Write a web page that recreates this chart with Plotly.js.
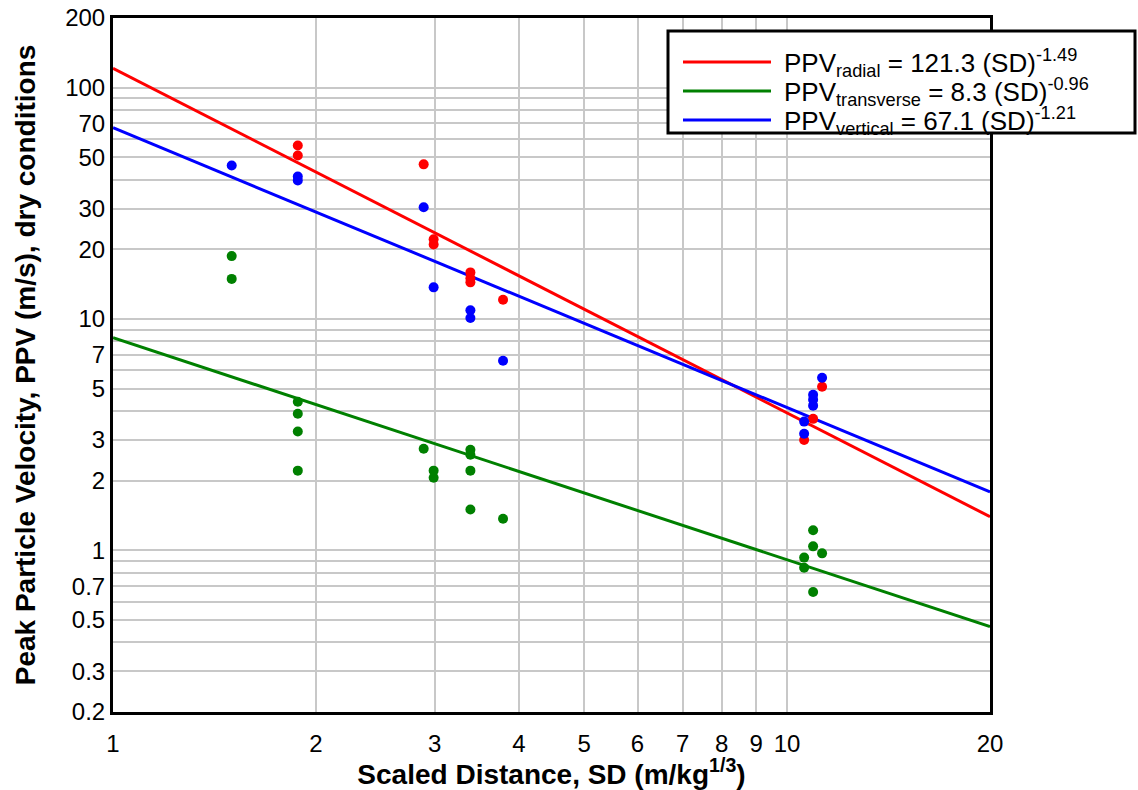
<!DOCTYPE html>
<html>
<head>
<meta charset="utf-8">
<script src="https://cdn.plot.ly/plotly-3.0.1.min.js"></script>
<style>
html,body{margin:0;padding:0;background:#fff;}
#chart{width:1138px;height:790px;}
</style>
</head>
<body>
<div id="chart"></div>
<script>
// ---- data ----
const components = ["radial", "transverse", "vertical"];
const fitCoef = [121.3, 8.3, 67.1];
const fitExp = [-1.49, -0.96, -1.21];
const colors = ["#ff0000", "#008000", "#0000ff"];

const sdRadial = [1.88, 1.88, 2.89, 2.99, 2.99, 3.39, 3.39, 3.39, 3.79, 11.27, 10.93, 10.6];
const ppvRadial = [56.2, 50.9, 46.6, 22.1, 21.0, 15.9, 15.0, 14.4, 12.1, 5.09, 3.7, 3.0];

const sdTransverse = [1.50, 1.50, 1.88, 1.88, 1.88, 1.88, 2.89, 2.99, 2.99, 3.39, 3.39, 3.39, 3.39, 3.79, 10.93, 10.93, 11.27, 10.6, 10.6, 10.93];
const ppvTransverse = [18.7, 14.9, 4.39, 3.89, 3.26, 2.21, 2.75, 2.21, 2.06, 2.72, 2.59, 2.21, 1.50, 1.37, 1.22, 1.04, 0.97, 0.93, 0.84, 0.66];

const sdVertical = [1.50, 1.88, 1.88, 2.89, 2.99, 3.39, 3.39, 3.79, 11.27, 10.93, 10.93, 10.93, 10.6, 10.6];
const ppvVertical = [46.1, 41.3, 39.7, 30.4, 13.7, 10.9, 10.1, 6.6, 5.57, 4.70, 4.48, 4.22, 3.6, 3.19];

const fitRangeSD = [1, 20];

const xTickVals = [1, 2, 3, 4, 5, 6, 7, 8, 9, 10, 20];
const xTickText = ["1", "2", "3", "4", "5", "6", "7", "8", "9", "10", "20"];
const yTickVals = [0.2, 0.3, 0.4, 0.5, 0.6, 0.7, 0.8, 0.9, 1, 2, 3, 4, 5, 6, 7, 8, 9, 10, 20, 30, 40, 50, 60, 70, 80, 90, 100, 200];
const yTickText = ["0.2", "0.3", "", "0.5", "", "0.7", "", "", "1", "2", "3", "", "5", "", "7", "", "", "10", "20", "30", "", "50", "", "70", "", "", "100", "200"];

// ---- layout geometry (pixels) ----
const W = 1138, H = 790;
const M = {l: 113, r: 148, t: 18, b: 78};
const PW = W - M.l - M.r, PH = H - M.t - M.b;
const px = x => (x - M.l) / PW;
const py = y => (H - M.b - y) / PH;

const FONT = "Liberation Sans, Arial, sans-serif";

const traces = [];
// fit lines
components.forEach((c, i) => {
  traces.push({
    x: fitRangeSD,
    y: fitRangeSD.map(s => fitCoef[i] * Math.pow(s, fitExp[i])),
    mode: "lines",
    line: {color: colors[i], width: 3},
    showlegend: false,
    hoverinfo: "skip",
    name: "PPV " + c + " fit"
  });
});
// measured points
const ptsX = [sdRadial, sdTransverse, sdVertical];
const ptsY = [ppvRadial, ppvTransverse, ppvVertical];
components.forEach((c, i) => {
  traces.push({
    x: ptsX[i],
    y: ptsY[i],
    mode: "markers",
    marker: {color: colors[i], size: 10},
    showlegend: false,
    name: "PPV " + c
  });
});

// manual legend
const legRows = [62, 91, 120];
const shapes = [{
  type: "rect", xref: "paper", yref: "paper",
  x0: px(668), x1: px(1135), y0: py(133), y1: py(31),
  line: {color: "#000", width: 3}, fillcolor: "#fff", layer: "above"
}];
const annotations = [];
components.forEach((c, i) => {
  shapes.push({
    type: "line", xref: "paper", yref: "paper",
    x0: px(683), x1: px(771), y0: py(legRows[i]), y1: py(legRows[i]),
    line: {color: colors[i], width: 3}, layer: "above"
  });
  annotations.push({
    xref: "paper", yref: "paper", x: px(782), y: py(legRows[i] + 1),
    xanchor: "left", yanchor: "middle", showarrow: false,
    text: "PPV<sub>" + c + "</sub> = " + fitCoef[i].toFixed(1) + " (SD)<sup>" + fitExp[i].toFixed(2) + "</sup>",
    font: {family: FONT, size: 26, color: "#000"}
  });
});

const layout = {
  width: W, height: H,
  margin: M,
  paper_bgcolor: "#fff",
  plot_bgcolor: "#fff",
  showlegend: false,
  xaxis: {
    type: "log",
    range: [0, Math.log10(20)],
    tickmode: "array",
    tickvals: xTickVals,
    ticktext: xTickText,
    ticks: "",
    ticklabelstandoff: 8,
    tickfont: {family: FONT, size: 24, color: "#000"},
    showgrid: true,
    gridcolor: "#c8c8c8",
    gridwidth: 2,
    showline: true, mirror: true, linecolor: "#000", linewidth: 3,
    zeroline: false,
    title: {
      text: "<b>Scaled Distance, SD (m/kg<sup>1/3</sup>)</b>",
      font: {family: FONT, size: 28, color: "#000"},
      standoff: 0
    }
  },
  yaxis: {
    type: "log",
    range: [Math.log10(0.2), Math.log10(200)],
    tickmode: "array",
    tickvals: yTickVals,
    ticktext: yTickText,
    ticks: "",
    ticklabelstandoff: 0,
    tickfont: {family: FONT, size: 24, color: "#000"},
    showgrid: true,
    gridcolor: "#c8c8c8",
    gridwidth: 2,
    showline: true, mirror: true, linecolor: "#000", linewidth: 3,
    zeroline: false,
    title: {
      text: "<b>Peak Particle Velocity, PPV (m/s), dry conditions</b>",
      font: {family: FONT, size: 28, color: "#000"},
      standoff: 22
    }
  },
  shapes: shapes,
  annotations: annotations
};

Plotly.newPlot("chart", traces, layout, {displayModeBar: false, staticPlot: true});
</script>
</body>
</html>
